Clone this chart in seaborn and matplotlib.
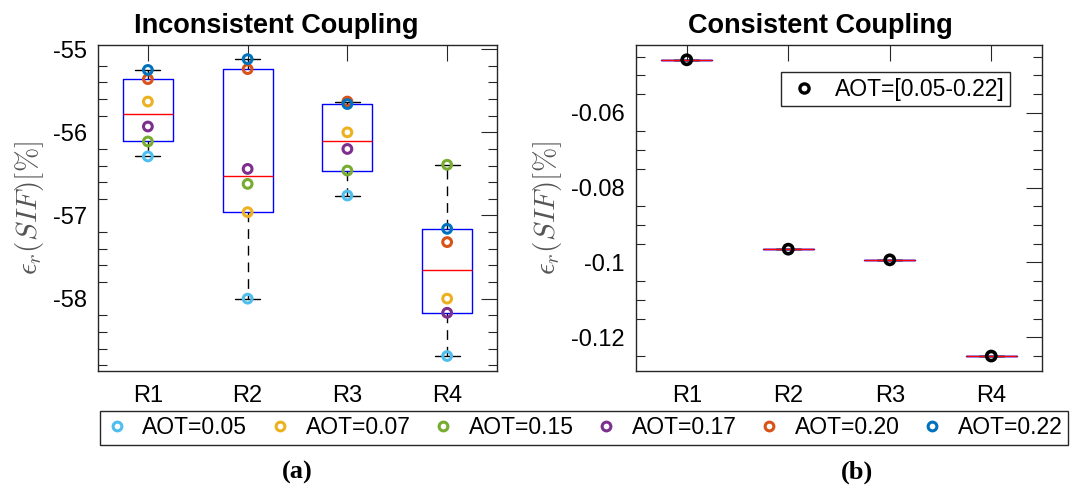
import numpy as np
import pandas as pd
import matplotlib
matplotlib.use("Agg")
import matplotlib.pyplot as plt
import matplotlib.cbook as cbook
import seaborn as sns
from matplotlib.lines import Line2D
from matplotlib.ticker import MultipleLocator, FuncFormatter

# ---------------- data ----------------
regions = ["R1", "R2", "R3", "R4"]
aot_labels = ["AOT=0.05", "AOT=0.07", "AOT=0.15", "AOT=0.17", "AOT=0.20", "AOT=0.22"]
aot_colors = ["#4DBEEE", "#EDB120", "#77AC30", "#7E2F8E", "#D95319", "#0072BD"]

# Inconsistent coupling, eps_r(SIF) [%] per region (R1..R4)
inc_aot005 = [-56.29, -58.00, -56.76, -58.69]
inc_aot007 = [-55.63, -56.96, -56.00, -58.00]
inc_aot015 = [-56.11, -56.62, -56.46, -56.39]
inc_aot017 = [-55.93, -56.44, -56.20, -58.17]
inc_aot020 = [-55.36, -55.24, -55.63, -57.32]
inc_aot022 = [-55.25, -55.12, -55.66, -57.16]
inc_series = [inc_aot005, inc_aot007, inc_aot015, inc_aot017, inc_aot020, inc_aot022]

# Consistent coupling: every AOT gives the same value per region
cons_values = [-0.04585, -0.09645, -0.0993, -0.1250]
cons_label = "AOT=[0.05-0.22]"

# ---------------- MATLAB-style quartiles for the boxes ----------------
_orig_stats = cbook.boxplot_stats


def _matlab_stats(X, *args, **kwargs):
    stats = _orig_stats(X, *args, **kwargs)
    for s, x in zip(stats, X):
        x = np.asarray(x, dtype=float)
        q1, med, q3 = np.percentile(x, [25, 50, 75], method="hazen")
        iqr = q3 - q1
        lo = x[x >= q1 - 1.5 * iqr]
        hi = x[x <= q3 + 1.5 * iqr]
        s.update(q1=q1, med=med, q3=q3, iqr=iqr,
                 whislo=lo.min() if lo.size else q1,
                 whishi=hi.max() if hi.size else q3)
    return stats


matplotlib.cbook.boxplot_stats = _matlab_stats

# ---------------- style ----------------
sns.set_theme(style="white")
plt.rcParams["font.family"] = ["Liberation Sans", "DejaVu Sans"]
plt.rcParams["mathtext.fontset"] = "cm"
plt.rcParams["axes.unicode_minus"] = False
plt.rcParams["text.color"] = "black"

fig = plt.figure(figsize=(10.72, 4.86), dpi=100)
W, H = 1072.0, 486.0
axL = fig.add_axes([98 / W, 1 - 371 / H, 399 / W, 326 / H])
axR = fig.add_axes([636 / W, 1 - 371 / H, 406 / W, 326 / H])

box_kw = dict(width=0.5, fill=False, showfliers=False, whis=1.5,
              boxprops=dict(color="blue", linewidth=1.0),
              medianprops=dict(color="red", linewidth=1.0),
              whiskerprops=dict(color="black", linewidth=1.0, linestyle=(0, (7, 5))),
              capprops=dict(color="black", linewidth=1.0))


def open_strip(ax, y, col, size, lw):
    n0 = len(ax.collections)
    sns.stripplot(x=regions, y=y, order=regions, jitter=False, color=col,
                  size=size, ax=ax, zorder=4)
    for coll in ax.collections[n0:]:
        coll.set_facecolor("none")
        coll.set_edgecolor(col)
        coll.set_linewidth(lw)
        coll.set_zorder(4)


# ---- left panel ----
rows = []
for lab, vals in zip(aot_labels, inc_series):
    for r, v in zip(regions, vals):
        rows.append((r, lab, v))
df_inc = pd.DataFrame(rows, columns=["region", "aot", "value"])

sns.boxplot(data=df_inc, x="region", y="value", order=regions, ax=axL, **box_kw)
for col, vals in zip(aot_colors, inc_series):
    open_strip(axL, vals, col, 6.3, 2.2)

# ---- right panel ----
rows = []
for lab in aot_labels:
    for r, v in zip(regions, cons_values):
        rows.append((r, lab, v))
df_cons = pd.DataFrame(rows, columns=["region", "aot", "value"])
sns.boxplot(data=df_cons, x="region", y="value", order=regions, ax=axR, **box_kw)
open_strip(axR, cons_values, "black", 6.6, 2.6)

# ---------------- axes formatting ----------------
fmt = FuncFormatter(lambda v, p: f"{v:g}")
for ax in (axL, axR):
    ax.set_xlim(-0.5, 3.5)
    ax.set_xlabel("")
    ax.set_ylabel(r"$\epsilon_r(SIF)[\%]$", fontsize=21, color="#555555", labelpad=5)
    ax.yaxis.set_major_formatter(fmt)
    ax.tick_params(axis="both", which="both", direction="in", top=True, right=True,
                   colors="#262626", labelcolor="black", width=0.8)
    ax.tick_params(axis="both", which="major", length=11.5, labelsize=17)
    ax.tick_params(axis="y", which="major", pad=8)
    ax.tick_params(axis="x", which="major", pad=10)
    ax.tick_params(axis="y", which="minor", length=6.5, left=True, right=True)
    ax.tick_params(axis="x", which="minor", length=0)
    for sp in ax.spines.values():
        sp.set_color("#262626")
        sp.set_linewidth(1.0)
        sp.set_visible(True)

axL.set_ylim(-58.87, -54.95)
axL.yaxis.set_major_locator(MultipleLocator(1))
axL.yaxis.set_minor_locator(MultipleLocator(0.2))

axR.set_ylim(-0.129, -0.0419)
axR.yaxis.set_major_locator(MultipleLocator(0.02))
axR.yaxis.set_minor_locator(MultipleLocator(0.005))

# legends
h_cons = [Line2D([0], [0], marker="o", ls="none", mfc="none", mec="black",
                 mew=2.4, ms=6.6, label=cons_label)]
legR = axR.legend(handles=h_cons, loc="upper right",
                  bbox_to_anchor=((1010 - 636) / 406, (371 - 72) / 326),
                  fontsize=16.5, frameon=True, fancybox=False, framealpha=1,
                  edgecolor="#262626", handlelength=1.5, handletextpad=0.6,
                  borderpad=0.25, borderaxespad=0)
legR.get_frame().set_linewidth(1.0)

handles = [Line2D([0], [0], marker="o", ls="none", mfc="none", mec=c, mew=2.2,
                  ms=6.3, label=l) for l, c in zip(aot_labels, aot_colors)]
legB = fig.legend(handles=handles, loc="lower left", ncol=6, mode="expand",
                  bbox_to_anchor=(100 / W, 1 - 445 / H, 968 / W, 33 / H),
                  fontsize=16.5, frameon=True, fancybox=False, framealpha=1,
                  edgecolor="#262626", handlelength=1.0, handletextpad=0.6,
                  borderpad=0.25, borderaxespad=0, columnspacing=0.5)
legB.get_frame().set_linewidth(1.0)

# titles and panel labels
fig.text(276 / W, 1 - 32.7 / H, "Inconsistent Coupling", ha="center", va="baseline",
         fontsize=19.5, fontweight="bold", color="black")
fig.text(820 / W, 1 - 32.7 / H, "Consistent Coupling", ha="center", va="baseline",
         fontsize=19.5, fontweight="bold", color="black")
fig.text(297 / W, 1 - 472 / H, "(a)", ha="center", va="center", color="black",
         fontsize=19, fontweight="bold", family=["Liberation Serif", "DejaVu Serif"])
fig.text(857 / W, 1 - 472 / H, "(b)", ha="center", va="center", color="black",
         fontsize=19, fontweight="bold", family=["Liberation Serif", "DejaVu Serif"])

fig.savefig("out.png", dpi=100)
